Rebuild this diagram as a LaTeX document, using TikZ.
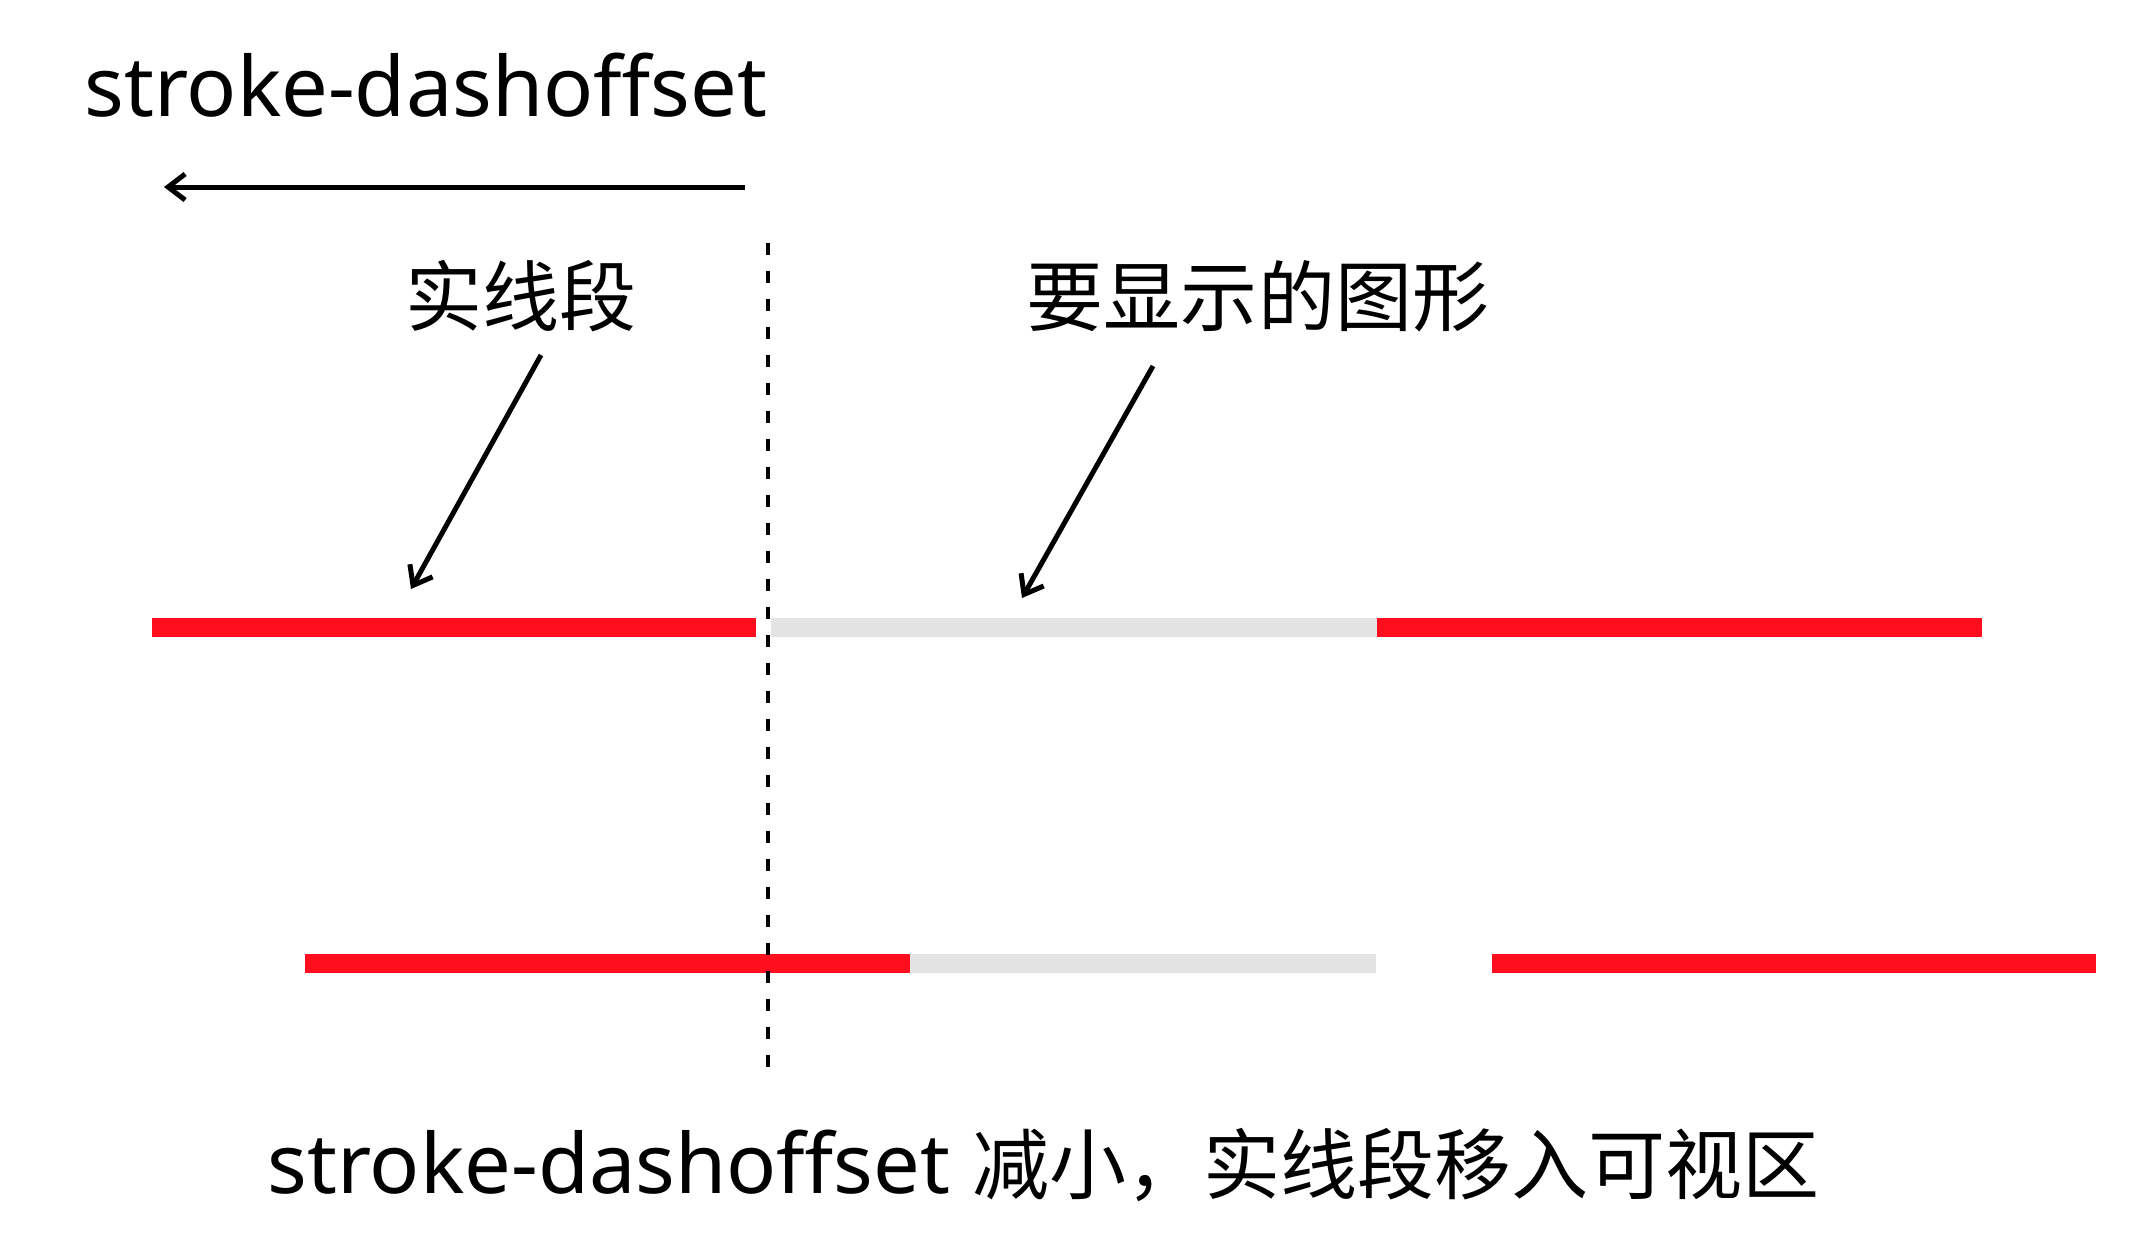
\documentclass[tikz,border=0pt]{standalone}
\usepackage{fontspec}
\setmainfont{Noto Sans}
\newfontfamily\cjk{Noto Sans CJK SC}[Scale=0.928]
\usetikzlibrary{arrows.meta}
\definecolor{cred}{HTML}{FF0F1E}
\definecolor{clight}{HTML}{E3E3E3}
\tikzset{
  every picture/.style={x=1pt, y=-1pt, line width=5pt},
  bar/.style={draw=#1, line width=19pt},
  bar/.default=cred,
  pointer/.style={-{Straight Barb[length=17pt, width=26pt]}, line width=5pt},
  tag/.style={font=\fontsize{83}{96}\selectfont\cjk, inner sep=0pt},
  heading/.style={font=\fontsize{83}{96}\selectfont, inner sep=0pt, anchor=base west},
  cutline/.style={line width=4pt, dash pattern=on 12pt off 16pt},
}

\begin{document}
\begin{tikzpicture}
  \useasboundingbox (0,0) rectangle (2132,1258);
  \node[heading] (title) at (82,116) {stroke-dashoffset};
  \coordinate (shiftR) at (745,187);
  \coordinate (shiftL) at (164,187);
  \draw[pointer] (shiftR) -- (shiftL);
  % first row: the dash pattern before the offset changes
  \draw[bar] (152,627.5) -- (756,627.5);
  \draw[bar=clight] (771,627.5) -- (1377,627.5);
  \draw[bar] (1377,627.5) -- (1982,627.5);
  % second row
  \draw[bar] (305,963.5) -- (910,963.5);
  \draw[bar=clight] (910,963.5) -- (1376,963.5);
  \draw[bar] (1492,963.5) -- (2096,963.5);
  \coordinate (cutTop) at (768,243);
  \coordinate (cutBot) at (768,1068);
  \draw[cutline] (cutTop) -- (cutBot);
  \node[tag] (solid) at (521,296) {实线段};
  \node[tag] (shape) at (1258,296) {要显示的图形};
  \coordinate (solidFrom) at (541,355);
  \coordinate (solidTo) at (411,589);
  \coordinate (shapeFrom) at (1153,366);
  \coordinate (shapeTo) at (1022,598);
  \draw[pointer] (solidFrom) -- (solidTo);
  \draw[pointer] (shapeFrom) -- (shapeTo);
  \node[heading] (result) at (265,1193) {stroke-dashoffset {\cjk 减小，实线段移入可视区}};
\end{tikzpicture}
\end{document}
